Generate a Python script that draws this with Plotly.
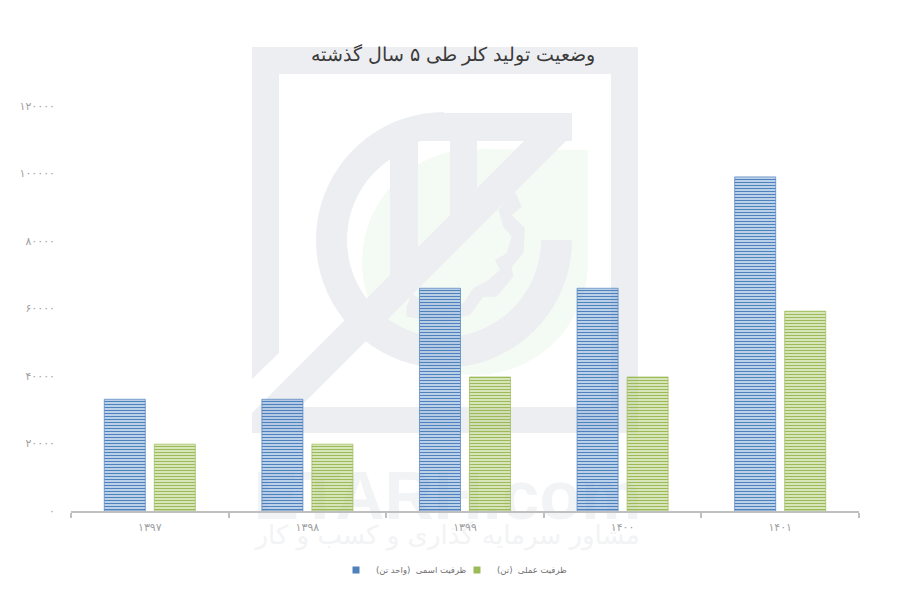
import numpy as np
import plotly.graph_objects as go

years = ["۱۳۹۷", "۱۳۹۸", "۱۳۹۹", "۱۴۰۰", "۱۴۰۱"]
nominal = [33100, 33100, 66000, 66000, 99000]
actual = [19800, 19800, 39700, 39700, 59200]
y_ticks = [0, 20000, 40000, 60000, 80000, 100000, 120000]
y_labels = ["۰", "۲۰۰۰۰", "۴۰۰۰۰", "۶۰۰۰۰", "۸۰۰۰۰", "۱۰۰۰۰۰", "۱۲۰۰۰۰"]
title_text = "وضعیت تولید کلر طی ۵ سال گذشته"
name_nominal = "ظرفیت اسمی  (واحد تن)"
name_actual = "ظرفیت عملی  (تن)"
wm_latin = "ETARH.com"
wm_persian = "مشاور سرمایه گذاری و کسب و کار"

W, H = 900, 600
OFF = 8  # page body margin
L, R, T, B = 71, 859, 106, 511
WM = "#ECEEF1"
WM_TEXT = "#F2F3F5"
WM_GREEN = "#F4FBF4"
BLUE = "#4F81BD"
GREEN = "#9BBB59"


def px(x):
    return (x - L) / (R - L)


def py(y):
    return (B - y) / (B - T)


def poly(points, color):
    d = "M " + " L ".join(f"{px(x):.5f},{py(y):.5f}" for x, y in points) + " Z"
    return dict(type="path", xref="paper", yref="paper", path=d, fillcolor=color,
                line=dict(width=0), layer="below")


def arc(cx, cy, r, a0, a1, n=60):
    t = np.radians(np.linspace(a0, a1, n))
    return [(cx + r * np.cos(a), cy - r * np.sin(a)) for a in t]


def zoomed(points):
    return [(x / 3 + 240, y / 3 + 40) for x, y in points]


shapes = []
# pale green backdrop
shapes.append(poly([(588, 150)] + arc(475, 262, 113, 90, 360) + [(588, 262)], WM_GREEN))
# frame
shapes.append(poly([(252, 47), (638, 47), (638, 433), (252, 433), (252, 413), (258, 407),
                    (611, 407), (611, 74), (279, 74), (279, 353), (252, 379)], WM))
# ring
cx, cy = 444, 240
shapes.append(poly([(572, 113), (444, 113)] + arc(cx, cy, 128, 90, 360)
                   + [(544, 240)] + arc(cx, cy, 97, 360, 118)
                   + [(420, 141), (572, 141)], WM))
# diagonal band
shapes.append(poly([(552, 113), (572, 113), (572, 135), (300, 407), (258, 407)], WM))
# verticals
shapes.append(poly([(390, 135), (418, 135), (418, 247), (390, 275)], WM))
shapes.append(poly([(450, 135), (477, 135), (477, 188), (450, 215)], WM))
# gear
shapes.append(poly(zoomed([(825, 455), (845, 500), (815, 525), (855, 565), (850, 640), (815, 680),
                           (820, 710), (770, 770), (730, 770), (690, 825), (610, 845), (560, 840),
                           (500, 830), (500, 800), (515, 760), (560, 790), (620, 790), (670, 790),
                           (700, 745), (745, 720), (780, 690), (765, 660), (800, 640), (815, 590),
                           (790, 560), (775, 510), (800, 480)]), WM))
# watermark text
shapes.append(dict(type="rect", xref="paper", yref="paper", x0=px(240), x1=px(655), y0=py(522), y1=py(455),
                   fillcolor="rgba(0,0,0,0)", line=dict(width=0), layer="below",
                   label=dict(text=wm_latin, textposition="middle center",
                              font=dict(family="Liberation Sans", size=68, color=WM_TEXT, weight=700))))
shapes.append(dict(type="rect", xref="paper", yref="paper", x0=px(240), x1=px(655), y0=py(553), y1=py(513),
                   fillcolor="rgba(0,0,0,0)", line=dict(width=0), layer="below",
                   label=dict(text=wm_persian, textposition="middle center",
                              font=dict(family="DejaVu Sans", size=26, color=WM_TEXT))))


def bar(name, vals, fg, bg, edge):
    return go.Bar(name=name, x=years, y=vals, showlegend=False,
                  marker=dict(color=bg,
                              line=dict(color=edge, width=1),
                              pattern=dict(shape="-", size=3, solidity=0.5, fgcolor=fg, fgopacity=1,
                                           bgcolor=bg, fillmode="overlay")))


def key(name, fg):
    return go.Scatter(name=name, x=[None], y=[None], mode="markers",
                      marker=dict(symbol="square", size=7, color=fg))


fig = go.Figure([
    bar(name_nominal, nominal, BLUE, "rgba(190,212,240,0.5)", "rgba(79,129,189,0.7)"),
    bar(name_actual, actual, GREEN, "rgba(215,228,180,0.5)", "rgba(155,187,89,0.7)"),
    key(name_nominal, BLUE),
    key(name_actual, GREEN),
])

fig.update_layout(
    width=W, height=H, autosize=False,
    margin=dict(l=L - OFF, r=W - R + OFF, t=T - OFF, b=H - B + OFF),
    paper_bgcolor="white", plot_bgcolor="rgba(0,0,0,0)",
    font=dict(family="DejaVu Sans", color="#808080", size=9),
    barmode="group", bargap=0.365, bargroupgap=0.18,
    shapes=shapes,
    title=dict(text=title_text, x=(453 - OFF) / W, xanchor="center", y=1 - (54 - OFF) / H, yanchor="middle",
               font=dict(family="DejaVu Sans", size=18.7, color="#3A3A3A", weight=200)),
    xaxis=dict(type="category", showline=True, linecolor="#BFBFBF", linewidth=2,
               ticks="outside", ticklen=5, tickwidth=2, tickcolor="#BFBFBF", tickson="boundaries",
               ticklabelstandoff=5, showgrid=False, zeroline=False,
               tickfont=dict(size=11, color="#A0A0A0")),
    yaxis=dict(range=[0, 120000], tickvals=y_ticks, ticktext=y_labels, showgrid=False, zeroline=False,
               showline=False, ticks="", ticklabelstandoff=15, tickfont=dict(size=11, color="#A0A0A0")),
    legend=dict(orientation="h", x=(457 - OFF) / W, xanchor="center", xref="container",
                y=1 - (570 - OFF) / H, yanchor="middle", yref="container",
                font=dict(size=8.5, color="#707070"), itemwidth=30, traceorder="normal",
                entrywidth=76, entrywidthmode="pixels",
                itemsizing="trace", bgcolor="rgba(0,0,0,0)"),
)

fig.write_html("out.html")
